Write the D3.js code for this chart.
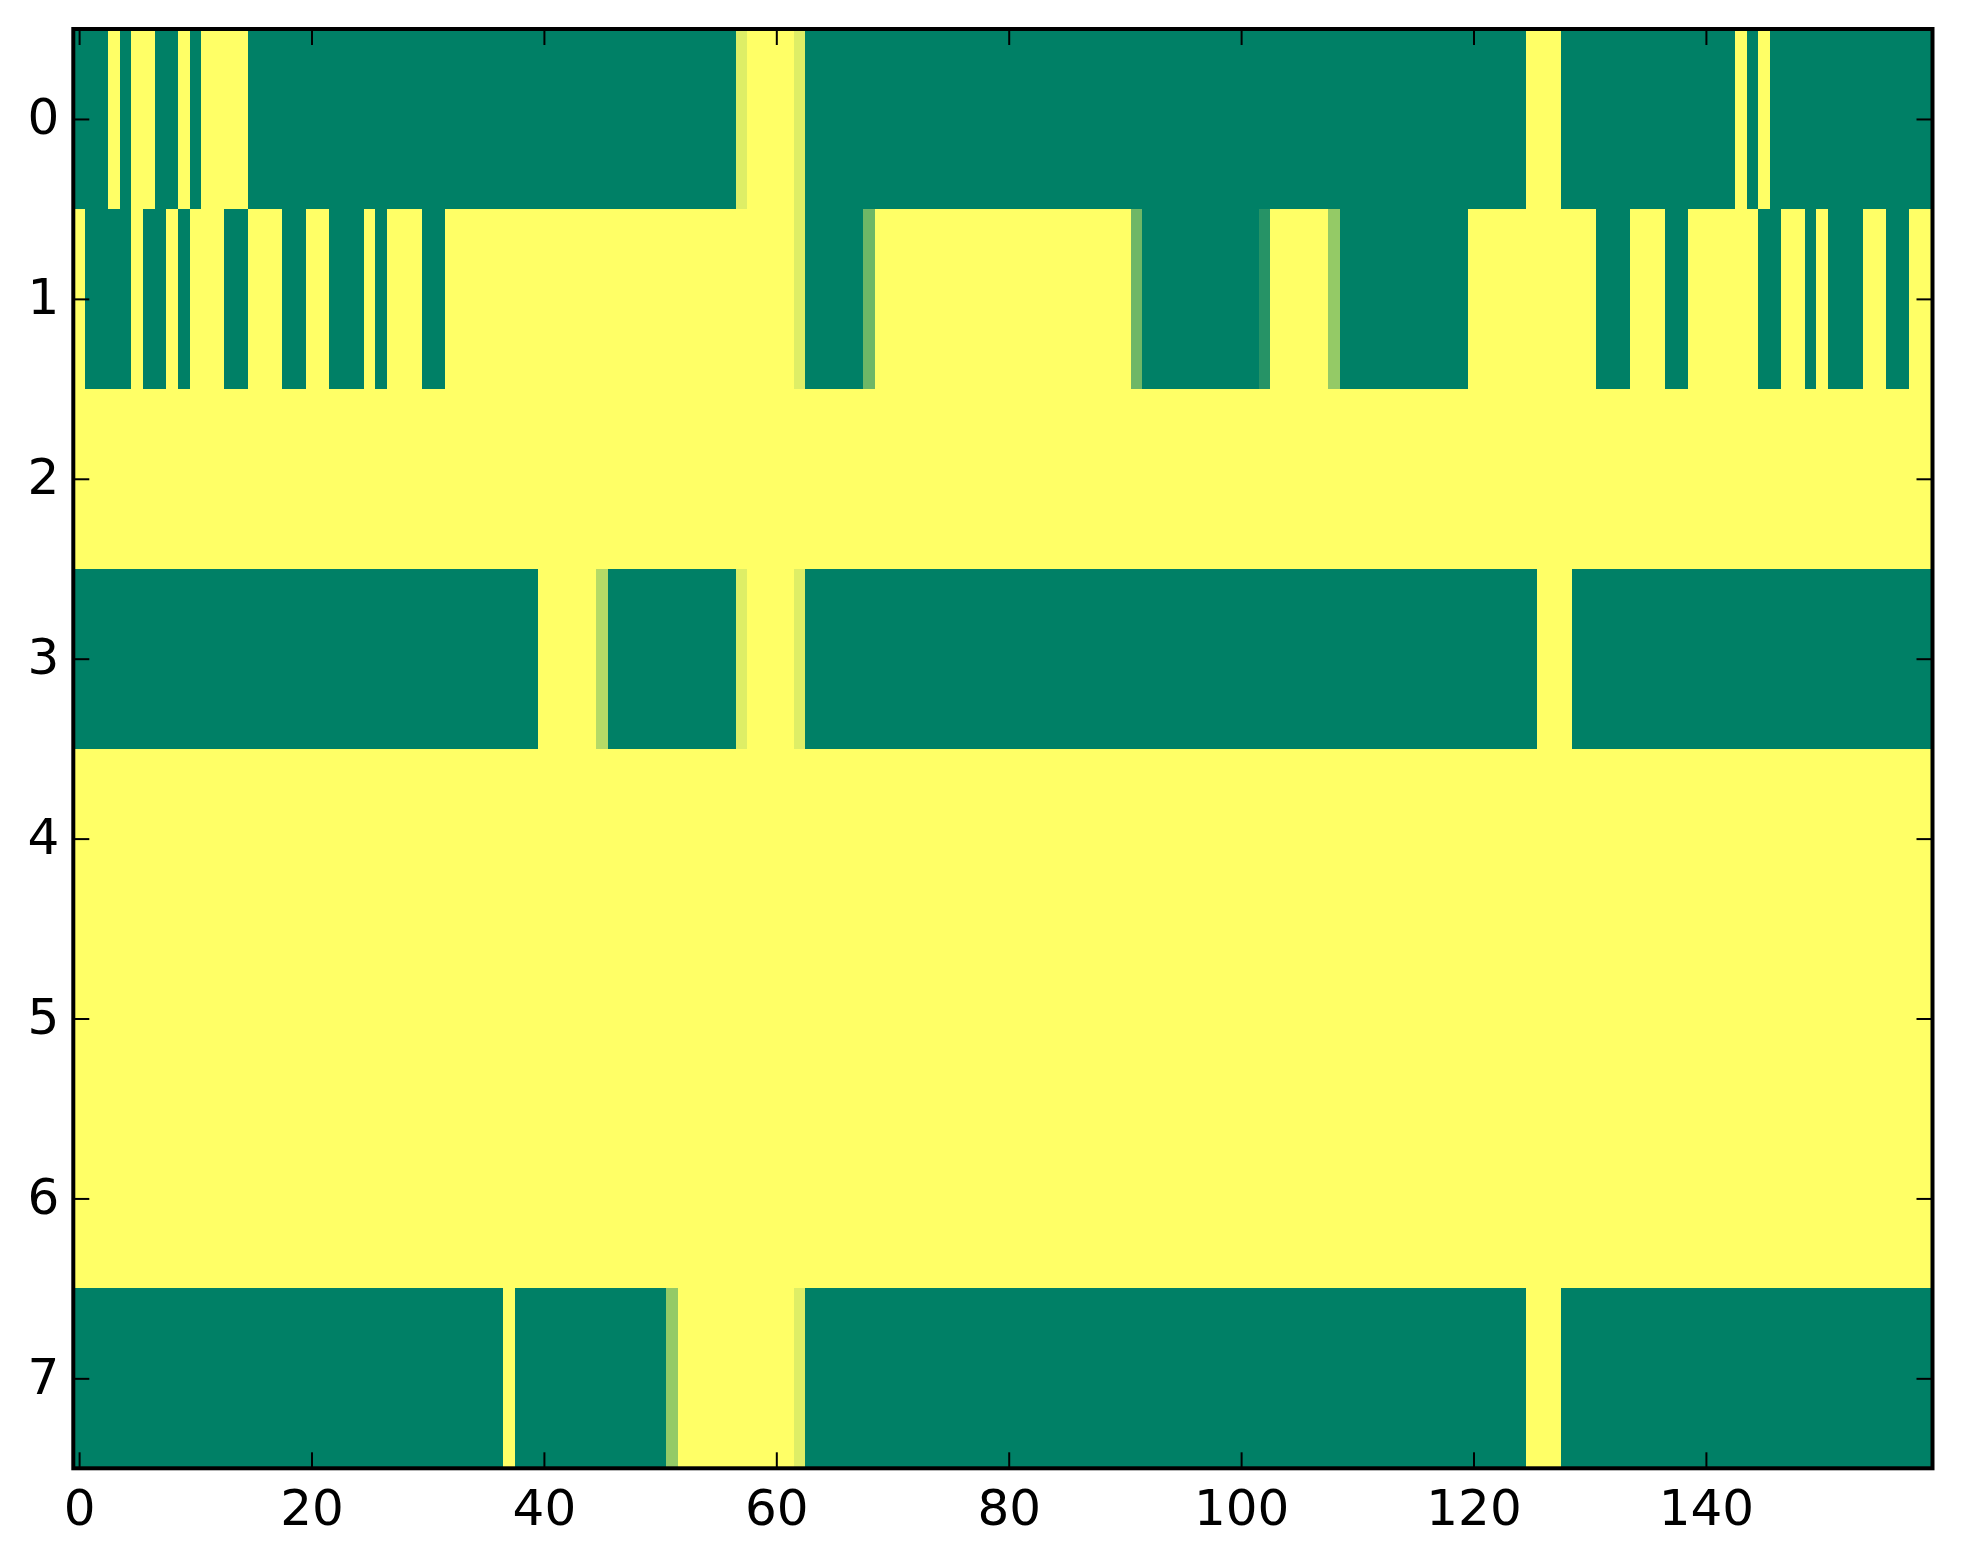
<!DOCTYPE html>
<html>
<head>
<meta charset="utf-8">
<script src="https://cdn.jsdelivr.net/npm/d3@7"></script>
<style>
  body { margin: 0; background: #fff; }
  svg { display: block; }
</style>
</head>
<body>
<div id="chart"></div>
<script>
// each row as runs of [value, count], value 0 = green, 1 = yellow
const row0 = [[0,3],[1,1],[0,1],[1,2],[0,2],[1,1],[0,1],[1,4],[0,42],[0.87,1],[1,4],[0.87,1],
              [0,62],[1,3],[0,15],[1,1],[0,1],[1,1],[0,14]];
const row1 = [[1,1],[0,4],[1,1],[0,2],[1,1],[0,1],[1,3],[0,2],[1,3],[0,2],[1,2],[0,3],[1,1],[0,1],
              [1,3],[0,2],[1,30],[0.87,1],[0,5],[0.43,1],[1,22],[0.43,1],[0,10],[0.15,1],[1,5],
              [0.58,1],[0,11],[1,11],[0,3],[1,3],[0,2],[1,6],[0,2],[1,2],[0,1],[1,1],[0,3],[1,2],
              [0,2],[1,2]];
const row2 = [[1,160]];
const row3 = [[0,40],[1,5],[0.71,1],[0,11],[0.87,1],[1,4],[0.87,1],[0,63],[1,3],[0,31]];
const row4 = [[1,160]];
const row5 = [[1,160]];
const row6 = [[1,160]];
const row7 = [[0,37],[1,1],[0,13],[0.58,1],[1,10],[0.87,1],[0,62],[1,3],[0,32]];

const rows = [row0, row1, row2, row3, row4, row5, row6, row7];
const nCols = 160;
const xTicks = [0, 20, 40, 60, 80, 100, 120, 140];
const yTicks = [0, 1, 2, 3, 4, 5, 6, 7];

const width = 1963, height = 1564;
const margin = {top: 29, right: 30.5, bottom: 95.7, left: 73.3};

// expand runs into cells
const cells = [];
rows.forEach((runs, r) => {
    let c = 0;
    runs.forEach(([v, n]) => {
        for (let i = 0; i < n; i++) cells.push({row: r, col: c++, value: v});
    });
});

const x = d3.scaleLinear()
    .domain([-0.5, nCols - 0.5])
    .range([margin.left, width - margin.right]);
const y = d3.scaleLinear()
    .domain([-0.5, rows.length - 0.5])
    .range([margin.top, height - margin.bottom]);
// matplotlib "summer"
const color = d3.scaleLinear()
    .domain([0, 1])
    .range(['#008066', '#ffff66']);

const svg = d3.select('#chart').append('svg')
    .attr('width', width)
    .attr('height', height);

svg.append('rect')
    .attr('width', width)
    .attr('height', height)
    .style('fill', '#fff');

svg.append('g')
    .attr('class', 'cells')
    .attr('shape-rendering', 'crispEdges')
  .selectAll('rect')
  .data(cells)
  .join('rect')
    .attr('x', d => x(d.col - 0.5))
    .attr('y', d => y(d.row - 0.5))
    .attr('width', x(1) - x(0) + 0.4)
    .attr('height', y(1) - y(0) + 0.4)
    .style('fill', d => color(d.value));

const fontSize = 50;
const tickLen = 16;

function styleAxis(g) {
    g.select('.domain').remove();
    g.selectAll('.tick line')
        .attr('stroke', '#000')
        .attr('stroke-width', 2);
    g.selectAll('.tick text')
        .attr('fill', '#000')
        .style('font-family', '"DejaVu Sans", sans-serif')
        .style('font-size', fontSize + 'px');
}

// bottom
svg.append('g')
    .attr('transform', `translate(0,${height - margin.bottom})`)
    .call(d3.axisBottom(x).tickValues(xTicks).tickSizeInner(-tickLen).tickSizeOuter(0).tickPadding(21))
    .call(styleAxis);
// top, ticks only
svg.append('g')
    .attr('transform', `translate(0,${margin.top})`)
    .call(d3.axisTop(x).tickValues(xTicks).tickFormat('').tickSizeInner(-tickLen).tickSizeOuter(0))
    .call(styleAxis);
// left
svg.append('g')
    .attr('transform', `translate(${margin.left},0)`)
    .call(d3.axisLeft(y).tickValues(yTicks).tickSizeInner(-tickLen).tickSizeOuter(0).tickPadding(14))
    .call(styleAxis)
    .selectAll('.tick text')
    .attr('dy', '0.30em');
// right, ticks only
svg.append('g')
    .attr('transform', `translate(${width - margin.right},0)`)
    .call(d3.axisRight(y).tickValues(yTicks).tickFormat('').tickSizeInner(-tickLen).tickSizeOuter(0))
    .call(styleAxis);

// frame
svg.append('rect')
    .attr('x', margin.left)
    .attr('y', margin.top)
    .attr('width', width - margin.left - margin.right)
    .attr('height', height - margin.top - margin.bottom)
    .style('fill', 'none')
    .style('stroke', '#000')
    .style('stroke-width', 4);
</script>
</body>
</html>
